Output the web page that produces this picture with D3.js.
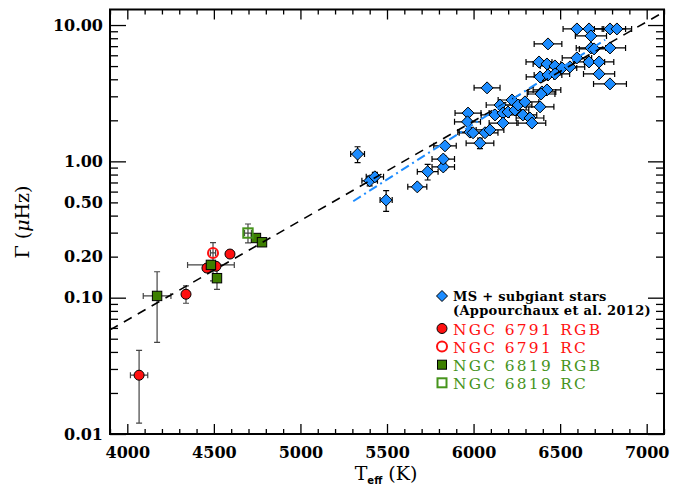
<!DOCTYPE html>
<html>
<head>
<meta charset="utf-8">
<script src="https://cdn.jsdelivr.net/npm/d3@7"></script>
<style>
  body { margin: 0; background: #fff; }
  text { font-family: "DejaVu Serif", serif; }
</style>
</head>
<body>
<svg id="svg" width="689" height="494"></svg>
<script>
const width = 689;
const height = 494;
const margin = { left: 110, right: 25, top: 9.5, bottom: 60 };

// MS + subgiant stars (Appourchaux et al. 2012)
const msTeff = [5330, 5400, 5430, 5495, 5675, 5735, 5825, 5825, 5835, 5968,
  5965, 5979, 5997, 6037, 6066, 6095, 6078, 6124, 6153, 6170,
  6170, 6199, 6222, 6239, 6257, 6297, 6285, 6326, 6337, 6384,
  6395, 6424, 6390, 6378, 6424, 6470, 6511, 6557, 6384, 6430,
  6470, 6430, 6597, 6667, 6678, 6788, 6828, 6678, 6696, 6788,
  6597, 6667, 6725, 6725, 6788];
const msGamma = [1.13, 0.72, 0.77, 0.52, 0.65, 0.84, 0.91, 1.04, 1.30, 2.26,
  1.95, 1.64, 1.62, 1.36, 1.62, 1.70, 3.46, 2.19, 2.59, 2.26,
  1.91, 2.30, 2.82, 2.38, 2.59, 2.73, 2.19, 2.08, 1.91, 2.51,
  3.23, 3.34, 3.12, 5.36, 5.18, 5.01, 4.84, 4.93, 4.16, 4.30,
  4.38, 7.27, 9.36, 9.36, 8.32, 9.36, 9.36, 6.79, 6.68, 6.79,
  5.74, 5.36, 5.36, 4.38, 3.70];
const msTeffErr = [40, 45, 50, 35, 55, 60, 65, 65, 65, 75,
  75, 70, 80, 80, 75, 80, 75, 80, 80, 80,
  80, 80, 80, 80, 80, 80, 80, 80, 80, 80,
  80, 80, 80, 75, 80, 85, 85, 85, 80, 80,
  85, 80, 80, 85, 90, 90, 85, 85, 85, 90,
  85, 90, 85, 90, 95];
const msGammaErr = [0.15, 0.06, 0.06, 0.09, 0.03, 0.11, 0.05, 0.06, 0.06, 0.10,
  0.09, 0.07, 0.08, 0.12, 0.07, 0.07, 0.12, 0.10, 0.10, 0.10,
  0.09, 0.10, 0.12, 0.10, 0.10, 0.12, 0.10, 0.10, 0.09, 0.11,
  0.14, 0.15, 0.14, 0.25, 0.22, 0.22, 0.20, 0.22, 0.18, 0.20,
  0.20, 0.35, 0.45, 0.45, 0.40, 0.45, 0.45, 0.30, 0.30, 0.30,
  0.25, 0.25, 0.25, 0.20, 0.18];

// NGC 6791 RGB
const rgb6791Teff = [4068, 4339, 4460, 4512, 4593];
const rgb6791Gamma = [0.027, 0.106, 0.165, 0.170, 0.209];
const rgb6791TeffErr = [50, 8, 15, 12, 10];
const rgb6791GammaLo = [0.015, 0.015, 0.010, 0.010, 0.010];
const rgb6791GammaHi = [0.014, 0.016, 0.010, 0.010, 0.010];

// NGC 6791 RC
const rc6791Teff = [4495];
const rc6791Gamma = [0.213];
const rc6791TeffErr = [15];
const rc6791GammaLo = [0.08];
const rc6791GammaHi = [0.04];

// NGC 6819 RGB
const rgb6819Teff = [4172, 4483, 4518, 4743, 4778];
const rgb6819Gamma = [0.103, 0.174, 0.139, 0.274, 0.255];
const rgb6819TeffErr = [80, 135, 12, 12, 12];
const rgb6819GammaLo = [0.056, 0.012, 0.024, 0.010, 0.010];
const rgb6819GammaHi = [0.052, 0.012, 0.028, 0.010, 0.010];

// NGC 6819 RC
const rc6819Teff = [4697];
const rc6819Gamma = [0.298];
const rc6819TeffErr = [20];
const rc6819GammaLo = [0.046];
const rc6819GammaHi = [0.049];

// fits
const fitAllTeff = [3900, 7100];
const fitAllGamma = [0.058, 12.5];
const fitMsTeff = [5305, 6760];
const fitMsGamma = [0.51, 7.8];

const xMajor = [4000, 4500, 5000, 5500, 6000, 6500, 7000];
const yLabels = [0.01, 0.1, 0.2, 0.5, 1, 10];
const yDecades = [0.01, 0.1, 1, 10];

const blue = "#1c8cff";
const red = "#ff1010";
const green = "#3d7f00";
const greenText = "#46941c";

let svg = d3.select("#svg");

const x = d3.scaleLinear().domain([3900, 7100]).range([margin.left, width - margin.right]);
const y = d3.scaleLog().domain([0.01, 13]).range([height - margin.bottom, margin.top]);

const x0 = margin.left, x1 = width - margin.right;
const y0 = height - margin.bottom, y1 = margin.top;

function pack(ts, gs, et, lo, hi) {
  return ts.map((t, i) => ({ t: t, g: gs[i], et: et[i], lo: lo[i], hi: hi[i] }));
}

const msData = pack(msTeff, msGamma, msTeffErr, msGammaErr, msGammaErr);
const groups = [
  { data: pack(rgb6791Teff, rgb6791Gamma, rgb6791TeffErr, rgb6791GammaLo, rgb6791GammaHi), shape: "circle", fill: red, stroke: "#000" },
  { data: pack(rgb6819Teff, rgb6819Gamma, rgb6819TeffErr, rgb6819GammaLo, rgb6819GammaHi), shape: "square", fill: green, stroke: "#000" },
  { data: pack(rc6791Teff, rc6791Gamma, rc6791TeffErr, rc6791GammaLo, rc6791GammaHi), shape: "circle", fill: "none", stroke: red },
  { data: pack(rc6819Teff, rc6819Gamma, rc6819TeffErr, rc6819GammaLo, rc6819GammaHi), shape: "square", fill: "none", stroke: greenText },
];

// axes ticks (inward, IDL style)
let axes = svg.append("g");

function ticksOn(axisFn, scale, values, size, transform) {
  axes.append("g")
    .attr("transform", transform)
    .call(axisFn(scale).tickValues(values).tickSize(size).tickFormat(""))
    .call((g) => g.select(".domain").remove())
    .call((g) => g.selectAll("line").attr("stroke", "#000").attr("stroke-width", 1.3));
}

const xMinor = d3.range(3900, 7101, 100).filter((v) => !xMajor.includes(v));
const yMinor = y.ticks().filter((v) => !yDecades.some((d) => Math.abs(d - v) < 1e-9));

ticksOn(d3.axisBottom, x, xMinor, -5, `translate(0,${y0})`);
ticksOn(d3.axisBottom, x, xMajor, -10, `translate(0,${y0})`);
ticksOn(d3.axisTop, x, xMinor, -5, `translate(0,${y1})`);
ticksOn(d3.axisTop, x, xMajor, -10, `translate(0,${y1})`);
ticksOn(d3.axisLeft, y, yMinor, -8, `translate(${x0},0)`);
ticksOn(d3.axisLeft, y, yDecades, -16, `translate(${x0},0)`);
ticksOn(d3.axisRight, y, yMinor, -8, `translate(${x1},0)`);
ticksOn(d3.axisRight, y, yDecades, -16, `translate(${x1},0)`);

// tick labels
axes.append("g")
  .attr("transform", `translate(0,${y0})`)
  .call(d3.axisBottom(x).tickValues(xMajor).tickSize(0).tickPadding(13).tickFormat(d3.format("d")))
  .call((g) => g.select(".domain").remove())
  .call((g) => g.selectAll("text").attr("font-family", "DejaVu Serif").attr("font-weight", "bold").attr("font-size", 16).attr("fill", "#000"));

axes.append("g")
  .attr("transform", `translate(${x0},0)`)
  .call(d3.axisLeft(y).tickValues(yLabels).tickSize(0).tickPadding(7).tickFormat(d3.format(".2f")))
  .call((g) => g.select(".domain").remove())
  .call((g) => g.selectAll("text").attr("font-family", "DejaVu Serif").attr("font-weight", "bold").attr("font-size", 16).attr("fill", "#000"));

// error bars
function drawErrors(data, color) {
  let g = svg.append("g").attr("stroke", color).attr("stroke-width", 1.2).attr("fill", "none");
  let cap = 3;
  data.forEach((d) => {
    let cx = x(d.t), cy = y(d.g);
    let xl = x(d.t - d.et), xr = x(d.t + d.et);
    let yt = y(d.g + d.hi), yb = y(Math.max(d.g - d.lo, 0.0105));
    g.append("path").attr("d", `M${xl},${cy}H${xr}M${xl},${cy - cap}V${cy + cap}M${xr},${cy - cap}V${cy + cap}`);
    g.append("path").attr("d", `M${cx},${yt}V${yb}M${cx - cap},${yt}H${cx + cap}M${cx - cap},${yb}H${cx + cap}`);
  });
}

drawErrors(msData, "#000");
groups.forEach((gr) => drawErrors(gr.data, "#444"));

// markers
function diamond(r) {
  return `M0,${-r}L${r},0L0,${r}L${-r},0Z`;
}

function drawMarker(sel, shape, fill, stroke, r) {
  if (shape === "diamond") {
    sel.append("path").attr("d", diamond(r)).attr("fill", fill).attr("stroke", stroke).attr("stroke-width", 1);
  } else if (shape === "circle") {
    sel.append("circle").attr("r", r).attr("fill", fill).attr("stroke", stroke)
      .attr("stroke-width", fill === "none" ? 2 : 1);
  } else {
    sel.append("rect").attr("x", -r).attr("y", -r).attr("width", 2 * r).attr("height", 2 * r)
      .attr("fill", fill).attr("stroke", stroke).attr("stroke-width", fill === "none" ? 2 : 1);
  }
}

svg.append("g")
  .selectAll("g")
  .data(msData)
  .join("g")
  .attr("transform", (d) => `translate(${x(d.t)},${y(d.g)})`)
  .each(function () {
    drawMarker(d3.select(this), "diamond", blue, "#000", 6);
  });

groups.forEach((gr) => {
  svg.append("g")
    .selectAll("g")
    .data(gr.data)
    .join("g")
    .attr("transform", (d) => `translate(${x(d.t)},${y(d.g)})`)
    .each(function () {
      drawMarker(d3.select(this), gr.shape, gr.fill, gr.stroke, gr.shape === "circle" ? 5 : 4.7);
    });
});

// fit lines, drawn over the points like the original
const line = d3.line().x((d) => x(d[0])).y((d) => y(d[1]));

svg.append("path")
  .attr("d", line(fitAllTeff.map((t, i) => [t, fitAllGamma[i]])))
  .attr("fill", "none")
  .attr("stroke", "#000")
  .attr("stroke-width", 1.6)
  .attr("stroke-dasharray", "9,7");

svg.append("path")
  .attr("d", line(fitMsTeff.map((t, i) => [t, fitMsGamma[i]])))
  .attr("fill", "none")
  .attr("stroke", blue)
  .attr("stroke-width", 2)
  .attr("stroke-dasharray", "9,4,2,4");

// frame
svg.append("rect")
  .attr("x", x0).attr("y", y1)
  .attr("width", x1 - x0).attr("height", y0 - y1)
  .attr("fill", "none").attr("stroke", "#000").attr("stroke-width", 2);

// legend
let legend = svg.append("g");
let lx = 442;
let ms = legend.append("g").attr("transform", `translate(${lx},296)`);
drawMarker(ms, "diamond", blue, "#000", 5.5);
legend.append("text").attr("x", 453).attr("y", 301).attr("font-weight", "bold").attr("font-size", 13)
  .attr("letter-spacing", 0.3).text("MS + subgiant stars");
legend.append("text").attr("x", 453).attr("y", 315).attr("font-weight", "bold").attr("font-size", 13)
  .attr("letter-spacing", 0.3).text("(Appourchaux et al. 2012)");

const legendItems = [
  { label: "NGC 6791 RGB", shape: "circle", fill: red, stroke: "#000", text: red, y: 328.5 },
  { label: "NGC 6791 RC", shape: "circle", fill: "none", stroke: red, text: red, y: 346.6 },
  { label: "NGC 6819 RGB", shape: "square", fill: green, stroke: "#000", text: greenText, y: 364.7 },
  { label: "NGC 6819 RC", shape: "square", fill: "none", stroke: greenText, text: greenText, y: 382.8 },
];
legendItems.forEach((it) => {
  let g = legend.append("g").attr("transform", `translate(${lx},${it.y})`);
  drawMarker(g, it.shape, it.fill, it.stroke, it.shape === "circle" ? 5 : 4.5);
  legend.append("text").attr("x", 453).attr("y", it.y + 6).attr("font-size", 15.4)
    .attr("letter-spacing", 2.3).attr("fill", it.text).text(it.label);
});

// axis titles
svg.append("text")
  .attr("transform", "translate(29,222) rotate(-90)")
  .attr("text-anchor", "middle")
  .attr("font-size", 19)
  .html('Γ (<tspan font-style="italic">μ</tspan>Hz)');

let xt = svg.append("text").attr("x", 386).attr("y", 480).attr("text-anchor", "middle").attr("font-size", 19);
xt.append("tspan").text("T");
xt.append("tspan").attr("dy", 4).attr("font-size", 10).attr("font-weight", "bold")
  .attr("font-family", "DejaVu Sans").text("eff");
xt.append("tspan").attr("dy", -4).text(" (K)");
</script>
</body>
</html>
